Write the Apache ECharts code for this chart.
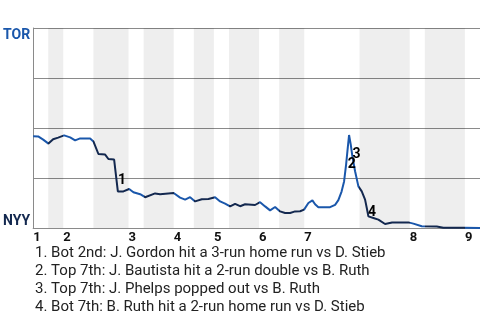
<!DOCTYPE html>
<html>
<head>
<meta charset="utf-8">
<script src="https://cdn.jsdelivr.net/npm/echarts@6/dist/echarts.min.js"></script>
<style>html,body{margin:0;padding:0;background:#fff}#c{width:480px;height:320px}</style>
</head>
<body>
<div id="c"></div>
<script>
// half-inning boundaries in plate-appearance units
const halfBounds = [0,3,6,12,19,22,28,32,36,39,45,49,54,65,75,78,86,89];
const inningStarts = [0,6,19,28,36,45,54,75,86];
const inningLabels = ['1','2','3','4','5','6','7','8','9'];
const yTickLabels = {0:'NYY', 100:'TOR'};

// win probability for TOR (%) by play index
const playX = [0,1,2,3.05,3.98,4.98,6.17,7.37,8.36,9.36,11.35,12,13,14.34,14.99,16.13,16.87,17.98,19.12,19.97,21.31,22.3,24.29,25.29,27.98,29.27,30.27,31.26,32.26,33.59,34.91,36.24,37.24,38.23,39.23,40.22,41.22,42.21,44.2,45.2,46.2,47.19,48.19,49.18,50.18,51.18,52.17,53.17,53.96,54.82,55.62,56.15,56.81,59.14,60.14,60.79,61.43,61.93,62.33,62.59,62.92,63.26,63.58,64.12,64.78,65.45,66.11,66.45,66.77,67.76,68.76,70.09,71.49,74.73,75.73,77.4,80.39,81.7,85.68,89];
const torWinPct = [45.9,45.8,44.2,42.2,44.4,45.2,46.3,45.3,43.8,44.8,44.8,43.3,37.0,36.7,34.5,34.2,18.3,18.3,19.5,17.9,16.9,15.4,17.3,16.9,17.5,15.2,14.2,15.4,13.3,14.4,14.5,15.4,13.3,12.2,10.8,12.1,10.9,11.9,11.5,12.9,10.8,8.8,10.5,8.3,7.5,7.5,8.3,8.4,9.2,12.5,13.8,11.9,10.4,10.4,11.6,13.9,18.2,23.3,31.7,38.3,46.5,41.7,35.8,28.4,20.8,18.3,14.2,10.0,5.8,5.0,4.2,2.0,2.8,2.8,2.2,0.9,0.8,0.1,0.1,0];

// key events
const eventNums = ['1','2','3','4'];
const eventX = [17.78,63.58,64.52,67.57];
const eventY = [23.3,31.3,36.3,7.5];
const eventNotes = [
  '1. Bot 2nd: J. Gordon hit a 3-run home run vs D. Stieb',
  '2. Top 7th: J. Bautista hit a 2-run double vs B. Ruth',
  '3. Top 7th: J. Phelps popped out vs B. Ruth',
  '4. Bot 7th: B. Ruth hit a 2-run home run vs D. Stieb'
];

const blue = '#1a57ab', navy = '#13284f', grid = '#8a8a8a';
const font = 'Roboto';

const lineData = playX.map((x,i)=>[x, torWinPct[i]]);
const pieces = [];
const bands = [];
for (let i=0;i<halfBounds.length-1;i++){
  const p = {gte: halfBounds[i], color: i%2===0 ? blue : navy};
  if (i===halfBounds.length-2) p.lte = halfBounds[i+1]; else p.lt = halfBounds[i+1];
  pieces.push(p);
  if (i%2===1) bands.push([{xAxis: halfBounds[i]},{xAxis: halfBounds[i+1]}]);
}

const chart = echarts.init(document.getElementById('c'), null, {renderer:'canvas'});
chart.setOption({
  animation: false,
  textStyle: {fontFamily: font},
  title: {
    text: eventNotes.join('\n'),
    left: 35, top: 244, padding: 0,
    textStyle: {fontFamily: font, fontSize: 15, fontWeight: 'normal', color: '#222', lineHeight: 18}
  },
  grid: {left: 33, right: 0, top: 28, height: 200},
  xAxis: {
    type: 'value', min: 0, max: 89, offset: 2,
    axisLine: {show: true, lineStyle: {color: grid, width: 1}},
    axisTick: {show: false},
    splitLine: {show: false},
    axisLabel: {
      customValues: inningStarts,
      formatter: v => inningLabels[inningStarts.indexOf(v)] || '',
      align: 'left', margin: 1,
      fontFamily: font, fontSize: 13, fontWeight: 'bold', color: '#111'
    }
  },
  yAxis: {
    type: 'value', min: 0, max: 100, interval: 25,
    axisLine: {show: true, lineStyle: {color: grid, width: 1}},
    axisTick: {show: false},
    splitLine: {show: true, showMinLine: false, lineStyle: {color: grid, width: 1}},
    axisLabel: {
      margin: 3,
      verticalAlignMinLabel: 'bottom',
      verticalAlignMaxLabel: 'top',
      formatter: v => v===100 ? '{t|'+yTickLabels[100]+'}' : (v===0 ? '{n|'+yTickLabels[0]+'}' : ''),
      rich: {
        t: {color: blue, fontWeight: 'bold', fontSize: 14, fontFamily: font},
        n: {color: navy, fontWeight: 'bold', fontSize: 14, fontFamily: font}
      }
    }
  },
  visualMap: {
    type: 'piecewise', show: false, dimension: 0, seriesIndex: 0, pieces: pieces
  },
  series: [
    {
      type: 'line', data: lineData, symbol: 'none', lineStyle: {width: 2},
      silent: true,
      markArea: {silent: true, itemStyle: {color: 'rgba(0,0,0,0.068)'}, data: bands}
    },
    {
      type: 'scatter', symbolSize: 1, silent: true, z: 5,
      itemStyle: {color: 'rgba(0,0,0,0)'},
      data: eventX.map((x,i)=>[x, eventY[i]]),
      label: {
        show: true, position: [0, 0], align: 'center', verticalAlign: 'middle',
        formatter: p => eventNums[p.dataIndex],
        fontFamily: font, fontSize: 14, fontWeight: 'bold', color: '#000',
        textBorderWidth: 0, opacity: 1
      }
    }
  ]
});
</script>
</body>
</html>
